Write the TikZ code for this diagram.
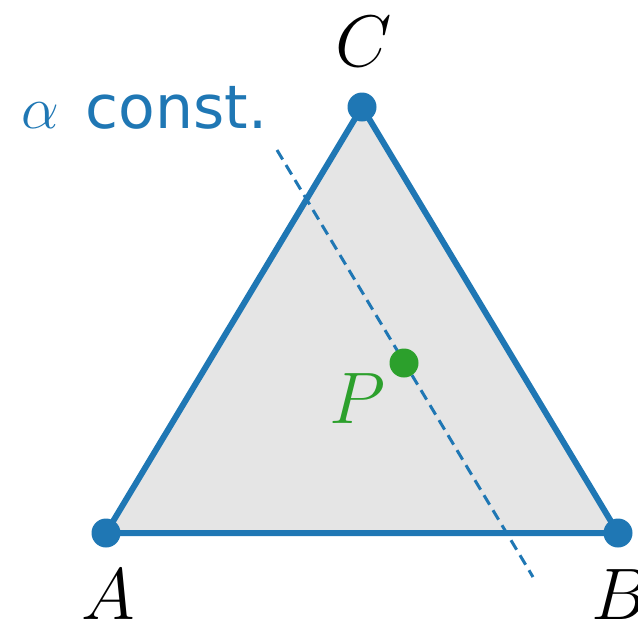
\RequirePackage{fix-cm}
\documentclass[tikz,border=0pt]{standalone}
\usepackage{fontspec}
\newfontfamily\dvsans{DejaVu Sans}
\definecolor{mblue}{HTML}{1F77B4}
\definecolor{mgreen}{HTML}{2CA02C}
\definecolor{mgray}{HTML}{E5E5E5}
\begin{document}
\begin{tikzpicture}[x=1pt,y=-1pt,
  vdot/.style={circle,fill=mblue,inner sep=0pt,minimum size=29pt},
  lbl/.style={font=\fontsize{73}{80}\selectfont,inner sep=0pt,anchor=base},
  edge/.style={draw=mblue,line width=6pt,line join=round}]
\useasboundingbox (0,0) rectangle (638,625);
\coordinate (A) at (106,533);
\coordinate (B) at (618,533);
\coordinate (C) at (362,107);
\fill[mgray] (A) -- (B) -- (C) -- cycle;
\draw[mblue,line width=3pt,dash pattern=on 11pt off 6.5pt] (277,150) coordinate (d1) -- (533,577) coordinate (d2);
\draw[edge] (A) -- (B) -- (C) -- cycle;
\node[vdot] (nA) at (A) {};
\node[vdot] (nB) at (B) {};
\node[vdot] (nC) at (C) {};
\node[circle,fill=mgreen,inner sep=0pt,minimum size=29pt] (P) at (404,363) {};
\node[lbl] (lC) at (364,66) {$C$};
\node[lbl] (lA) at (108,619) {$A$};
\node[lbl] (lB) at (620,619) {$B$};
\node[lbl,text=mgreen] (lP) at (357,423) {$P$};
\node[inner sep=0pt,anchor=base west,text=mblue,font=\fontsize{60}{68}\selectfont] (al) at (21,128) {$\alpha$\hspace{27pt}{\dvsans const.}};
\end{tikzpicture}
\end{document}
